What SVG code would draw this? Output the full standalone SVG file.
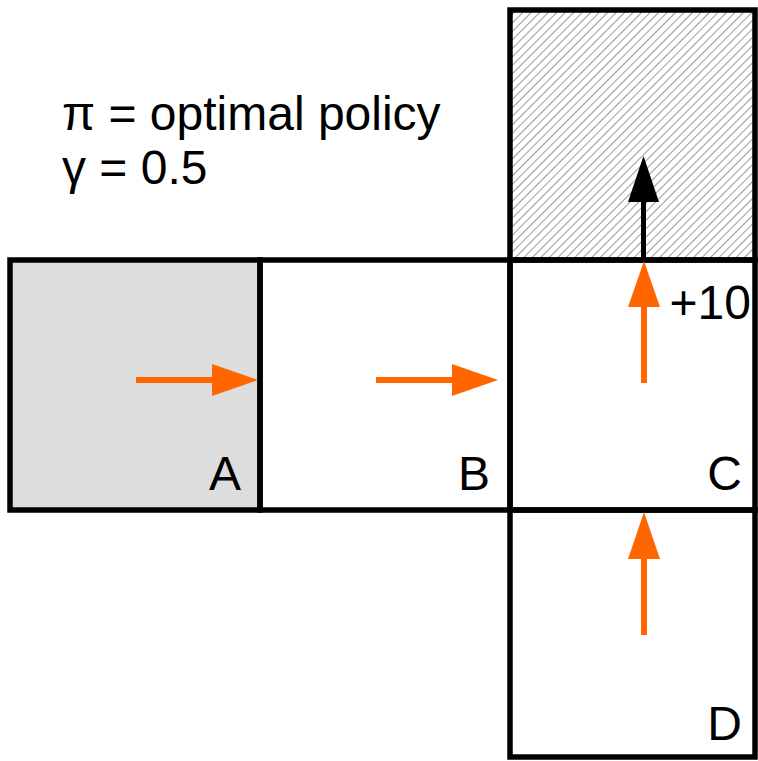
<svg xmlns="http://www.w3.org/2000/svg" width="758" height="761" viewBox="0 0 758 761">
<style>
.cell{stroke:#000;stroke-width:5.5;fill:#fff}
.lbl{font-family:"Liberation Sans",Arial,sans-serif;font-size:48px;fill:#000}
.or{stroke:#ff6600;stroke-width:6;fill:none}
.orh{fill:#ff6600}
</style>
<defs>
<pattern id="hatch" patternUnits="userSpaceOnUse" width="6" height="6" patternTransform="rotate(45)">
<line x1="0" y1="0" x2="0" y2="6" stroke="#000" stroke-width="0.8"/>
</pattern>
</defs>
<rect width="758" height="761" fill="#fff"/>
<g id="top">
<rect x="510" y="10" width="245" height="250" fill="url(#hatch)"/>
<rect class="cell" x="510" y="10" width="245" height="250" style="fill:none"/>
</g>
<g id="A">
<rect class="cell" x="10" y="260" width="250" height="250" style="fill:#dddddd"/>
<text class="lbl" x="241" y="490" text-anchor="end">A</text>
</g>
<g id="B">
<rect class="cell" x="260" y="260" width="250" height="250" style="fill:none"/>
<text class="lbl" x="490" y="490" text-anchor="end">B</text>
</g>
<g id="C">
<rect class="cell" x="510" y="260" width="245" height="250" style="fill:none"/>
<text class="lbl" x="742" y="490" text-anchor="end">C</text>
<text class="lbl" x="751" y="319" text-anchor="end">+10</text>
</g>
<g id="D">
<rect class="cell" x="510" y="510" width="245" height="247" style="fill:none"/>
<text class="lbl" x="742" y="740" text-anchor="end">D</text>
</g>
<g id="title">
<text class="lbl" x="62" y="130">π = optimal policy</text>
<text class="lbl" x="62" y="184">γ = 0.5</text>
</g>
<g id="connectors">
<line class="or" x1="136" y1="380" x2="214" y2="380"/>
<polygon class="orh" points="212,364 258,380 212,396"/>
<line class="or" x1="376" y1="380" x2="454" y2="380"/>
<polygon class="orh" points="452,364 498,380 452,396"/>
<line class="or" x1="644" y1="383" x2="644" y2="305"/>
<polygon class="orh" points="628,307 644,261 660,307"/>
<line class="or" x1="644" y1="635" x2="644" y2="557"/>
<polygon class="orh" points="628,559 644,512 660,559"/>
<line x1="643.5" y1="262" x2="643.5" y2="200" stroke="#000" stroke-width="5"/>
<polygon points="628,202 643.5,156 659,202" fill="#000"/>
</g>
</svg>
